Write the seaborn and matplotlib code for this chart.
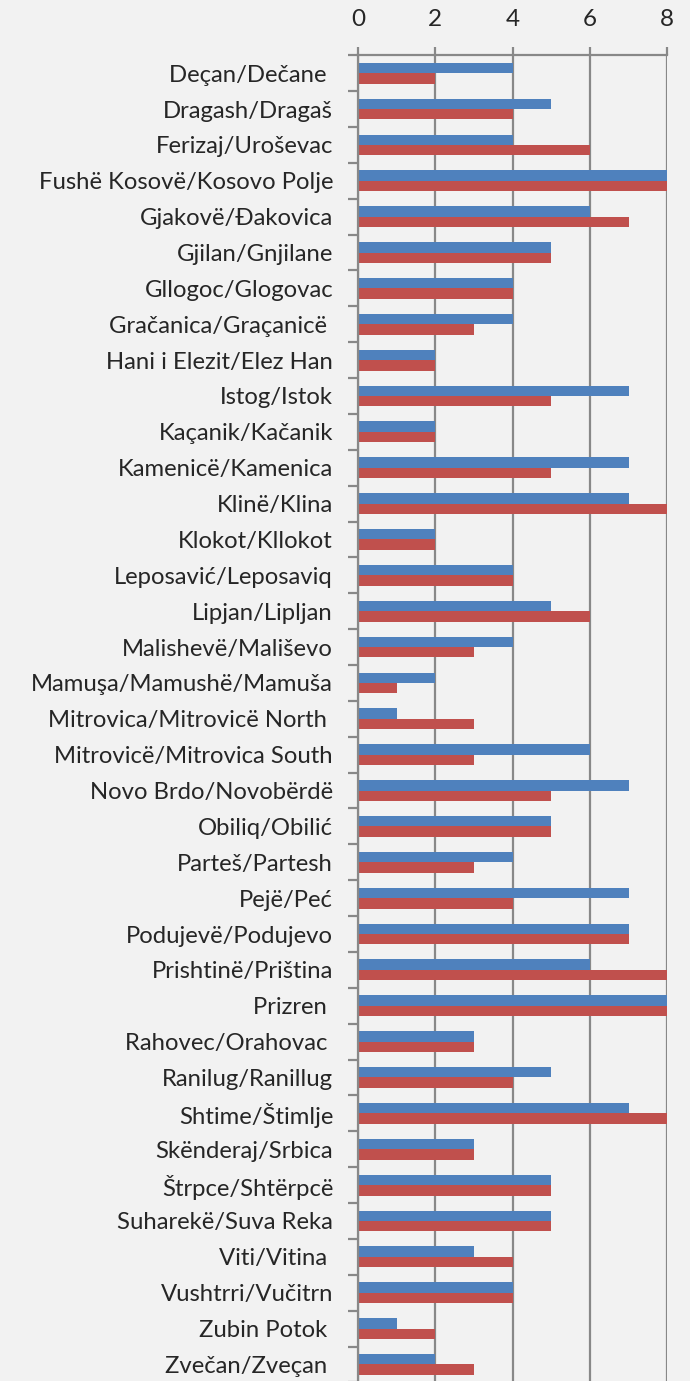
import matplotlib.pyplot as plt
import matplotlib.ticker as mticker
import numpy as np
import pandas as pd
import seaborn as sns

municipalities = [
    "Deçan/Dečane ", "Dragash/Dragaš", "Ferizaj/Uroševac", "Fushë Kosovë/Kosovo Polje",
    "Gjakovë/Đakovica", "Gjilan/Gnjilane", "Gllogoc/Glogovac", "Gračanica/Graçanicë ",
    "Hani i Elezit/Elez Han", "Istog/Istok", "Kaçanik/Kačanik", "Kamenicë/Kamenica",
    "Klinë/Klina", "Klokot/Kllokot", "Leposavić/Leposaviq", "Lipjan/Lipljan",
    "Malishevë/Mališevo", "Mamuşa/Mamushë/Mamuša", "Mitrovica/Mitrovicë North ",
    "Mitrovicë/Mitrovica South", "Novo Brdo/Novobërdë", "Obiliq/Obilić", "Parteš/Partesh",
    "Pejë/Peć", "Podujevë/Podujevo", "Prishtinë/Priština", "Prizren ", "Rahovec/Orahovac ",
    "Ranilug/Ranillug", "Shtime/Štimlje", "Skënderaj/Srbica", "Štrpce/Shtërpcë",
    "Suharekë/Suva Reka", "Viti/Vitina ", "Vushtrri/Vučitrn", "Zubin Potok ", "Zvečan/Zveçan ",
]
series_blue = [4, 5, 4, 8, 6, 5, 4, 4, 2, 7, 2, 7, 7, 2, 4, 5, 4, 2, 1, 6,
               7, 5, 4, 7, 7, 6, 8, 3, 5, 7, 3, 5, 5, 3, 4, 1, 2]
series_red = [2, 4, 6, 8, 7, 5, 4, 3, 2, 5, 2, 5, 8, 2, 4, 6, 3, 1, 3, 3,
              5, 5, 3, 4, 7, 8, 8, 3, 4, 8, 3, 5, 5, 4, 4, 2, 3]
series_names = ["Series 1", "Series 2"]
colors = ["#4f81bd", "#c0504d"]

df = pd.DataFrame({
    "Municipality": municipalities * 2,
    "Value": series_blue + series_red,
    "Series": [series_names[0]] * len(municipalities) + [series_names[1]] * len(municipalities),
})

sns.set_style("white")
plt.rcParams['font.family'] = ['Lato', 'DejaVu Sans']

bg = "#f2f2f2"
fig = plt.figure(figsize=(6.9, 13.81), dpi=100, facecolor=bg)
ax = fig.add_axes([0.519, -0.001, 0.448, 0.961])
ax.set_facecolor(bg)

sns.barplot(data=df, y="Municipality", x="Value", hue="Series", hue_order=series_names,
            palette=colors, orient="h", width=0.58, saturation=1, legend=False,
            linewidth=0, ax=ax)

ax.set_xlim(0, 8)
ax.set_ylim(len(municipalities) - 0.5, -0.5)
ax.xaxis.tick_top()
ax.set_xticks([0, 2, 4, 6, 8])
ax.tick_params(axis="x", top=True, bottom=False, length=6, width=1.6, color="#888888",
               labelsize=17.5, pad=12)
ax.grid(axis="x", color="#888888", linewidth=1.6)
ax.set_axisbelow(True)

ax.yaxis.set_minor_locator(mticker.FixedLocator(np.arange(-0.5, len(municipalities), 1)))
ax.tick_params(axis="y", which="major", length=0, labelsize=17.2, pad=18)
ax.tick_params(axis="y", which="minor", left=True, length=7, width=1.6, color="#888888")

for side in ["right", "bottom"]:
    ax.spines[side].set_visible(False)
for side in ["top", "left"]:
    ax.spines[side].set_color("#888888")
    ax.spines[side].set_linewidth(1.6)

ax.set_xlabel("")
ax.set_ylabel("")

fig.savefig("out.png", dpi=100, facecolor=bg)
